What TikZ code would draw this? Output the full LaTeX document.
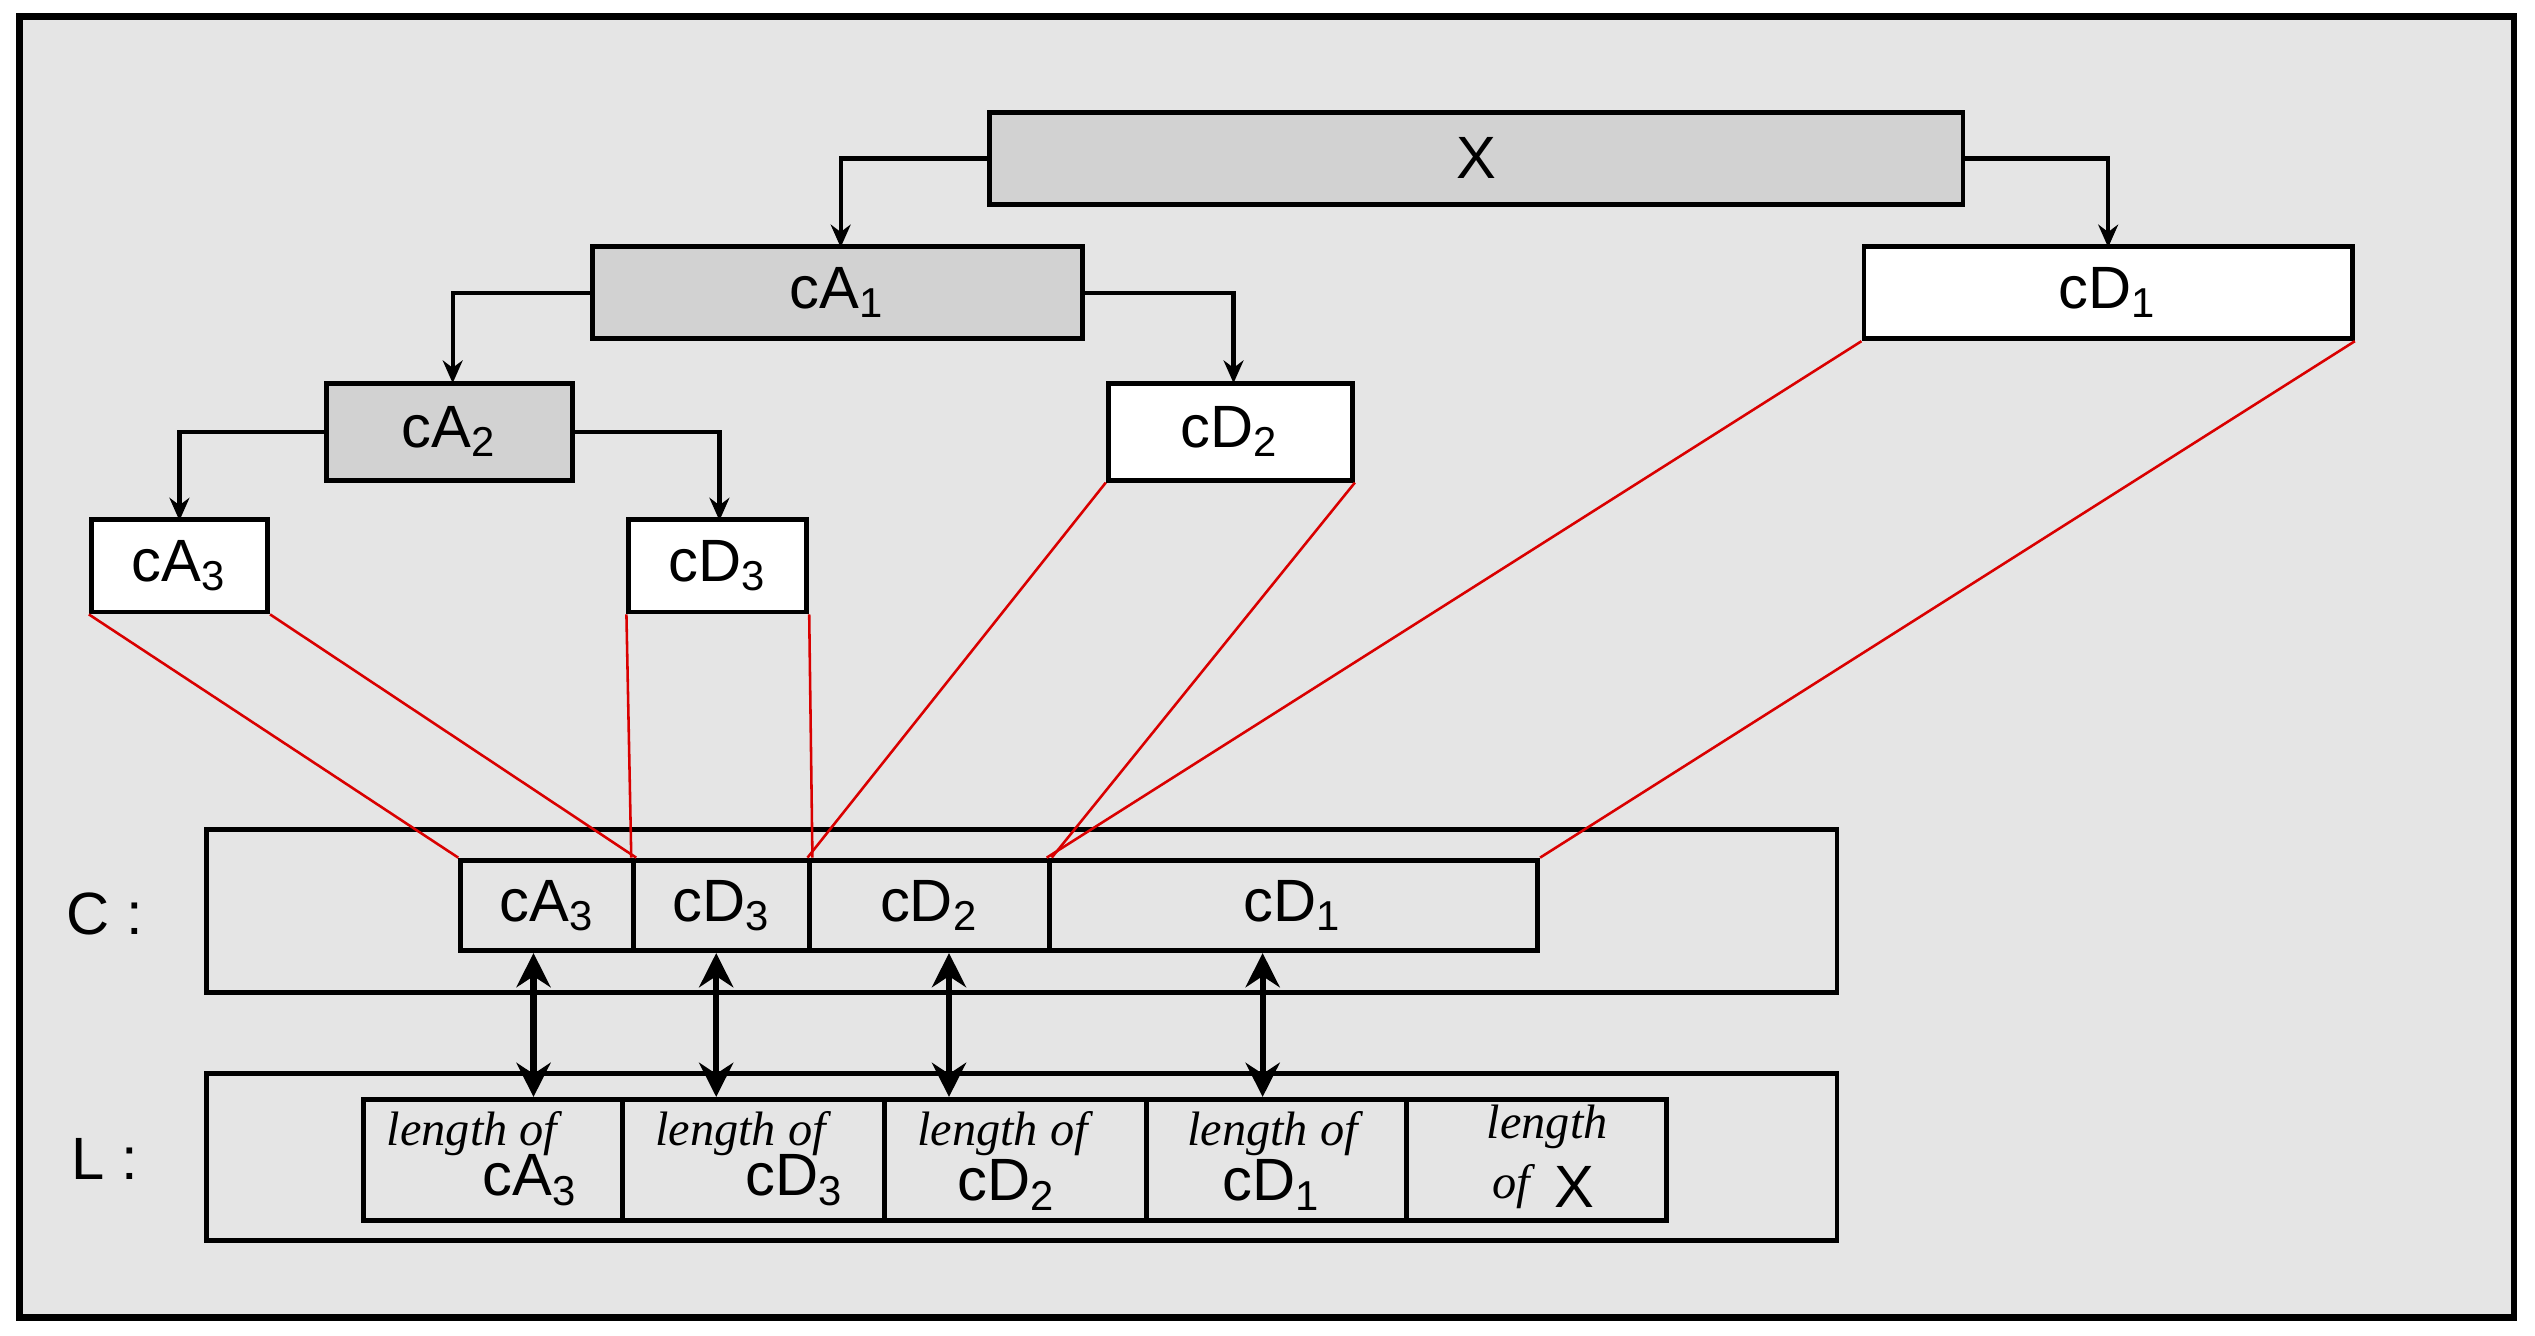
\documentclass[tikz,border=0pt]{standalone}
\usepackage{fontspec}
\setmainfont{Liberation Sans}
\newfontfamily\ser{Liberation Serif}
\usetikzlibrary{arrows.meta}
\newcommand{\mysub}[1]{\textsubscript{#1}}
\begin{document}
\begin{tikzpicture}[x=0.01cm,y=-0.01cm,
  bx/.style={draw,line width=0.85pt,inner sep=0pt,font=\fontsize{10.5}{11}\selectfont},
  gbx/.style={bx,fill=gray!35},
  arr/.style={line width=0.75pt,-{Stealth[length=4pt,width=3.5pt]}},
  red/.style={draw=red!85!black,line width=0.45pt},
  dbl/.style={line width=1.1pt,{Stealth[length=6pt,width=6pt]}-{Stealth[length=6pt,width=6pt]}},
  lbl/.style={font=\fontsize{10.5}{11}\selectfont,inner sep=0pt},
  lof/.style={font=\ser\itshape\fontsize{8.5}{9}\selectfont,inner sep=0pt}]
\useasboundingbox (0,0) rectangle (1568,826);
\fill[white] (0,0) rectangle (1568,826);
\draw[line width=1.2pt,fill=gray!20] (12,10) rectangle (1555,815);
% tree nodes
\node[gbx,minimum width=6.02cm,minimum height=0.57cm] (X) at (913,98) {X};
\node[gbx,minimum width=3.03cm,minimum height=0.57cm] (A1) at (518,181) {cA\mysub{1}};
\node[bx,fill=white,minimum width=3.02cm,minimum height=0.57cm] (D1) at (1304,181) {cD\mysub{1}};
\node[gbx,minimum width=1.52cm,minimum height=0.6cm] (A2) at (278,267) {cA\mysub{2}};
\node[bx,fill=white,minimum width=1.51cm,minimum height=0.6cm] (D2) at (761,267) {cD\mysub{2}};
\node[bx,fill=white,minimum width=1.09cm,minimum height=0.57cm] (A3) at (111,350) {cA\mysub{3}};
\node[bx,fill=white,minimum width=1.1cm,minimum height=0.57cm] (D3) at (444,350) {cD\mysub{3}};
\draw[arr] (X.west) -| (520,153);
\draw[arr] (X.east) -| (1304,153);
\draw[arr] (A1.west) -| (280,237);
\draw[arr] (A1.east) -| (763,237);
\draw[arr] (A2.west) -| (111,322);
\draw[arr] (A2.east) -| (445,322);
% C row
\node[bx,minimum width=10.08cm,minimum height=1.01cm] (C) at (632,563.5) {};
\node[lbl] (Cl) at (65,565) {C :};
\node[bx,minimum width=1.07cm,minimum height=0.56cm] (c1) at (338.5,560) {cA\mysub{3}};
\node[bx,minimum width=1.09cm,minimum height=0.56cm] (c2) at (446.5,560) {cD\mysub{3}};
\node[bx,minimum width=1.48cm,minimum height=0.56cm] (c3) at (575,560) {cD\mysub{2}};
\node[bx,minimum width=3.02cm,minimum height=0.56cm] (c4) at (800,560) {cD\mysub{1}};
% red
\draw[red] (A3.south west) -- (c1.north west);
\draw[red] (A3.south east) -- (c1.north east);
\draw[red] (D3.south west) -- (c2.north west);
\draw[red] (D3.south east) -- (c2.north east);
\draw[red] (D2.south west) -- (c3.north west);
\draw[red] (D2.south east) -- (c3.north east);
\draw[red] (D1.south west) -- (c4.north west);
\draw[red] (D1.south east) -- (c4.north east);
% L row
\node[bx,minimum width=10.08cm,minimum height=1.03cm] (L) at (632,715.5) {};
\node[lbl] (Ll) at (65,717) {L :};
\node[bx,minimum width=1.6cm,minimum height=0.75cm] (l1) at (305,717.5) {};
\node[bx,minimum width=1.62cm,minimum height=0.75cm] (l2) at (466,717.5) {};
\node[bx,minimum width=1.62cm,minimum height=0.75cm] (l3) at (628,717.5) {};
\node[bx,minimum width=1.61cm,minimum height=0.75cm] (l4) at (789.5,717.5) {};
\node[bx,minimum width=1.61cm,minimum height=0.75cm] (l5) at (950.5,717.5) {};
\node[lof] (t1) at (292,701) {length of};
\node[lbl] (s1) at (328,730) {cA\mysub{3}};
\node[lof] (t2) at (458,701) {length of};
\node[lbl] (s2) at (492,730) {cD\mysub{3}};
\node[lof] (t3) at (620,701) {length of};
\node[lbl] (s3) at (623,733) {cD\mysub{2}};
\node[lof] (t4) at (787,701) {length of};
\node[lbl] (s4) at (787,733) {cD\mysub{1}};
\node[lof] (t5) at (957,697) {length};
\node[lof] (t6) at (935,734) {of};
\node[lbl] (s5) at (974,734) {X};
\draw[dbl] (c1.south-|330,0) -- (l1.north-|330,0);
\draw[dbl] (c2.south-|443,0) -- (l2.north-|443,0);
\draw[dbl] (c3.south-|587,0) -- (l3.north-|587,0);
\draw[dbl] (c4.south-|781,0) -- (l4.north-|781,0);
\end{tikzpicture}
\end{document}
